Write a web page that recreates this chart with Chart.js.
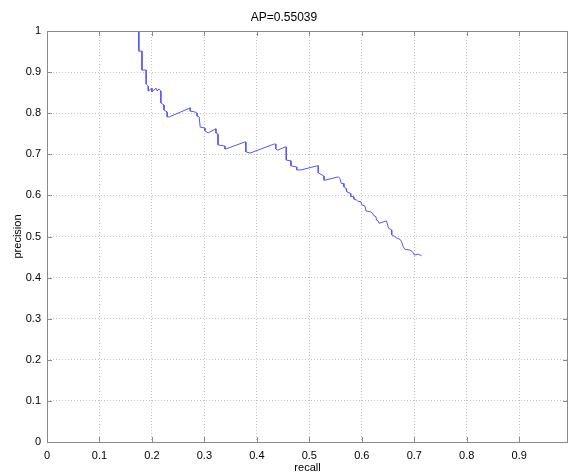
<!DOCTYPE html>
<html>
<head>
<meta charset="utf-8">
<script src="https://cdn.jsdelivr.net/npm/chart.js@4.4.1/dist/chart.umd.min.js"></script>
<style>
  html, body { margin: 0; padding: 0; background: #fff; }
  canvas { display: block; }
</style>
</head>
<body>
<canvas id="pr" width="569" height="475"></canvas>
<script>
// precision / recall curve
const recall = [
  0.175, 0.175, 0.181, 0.181, 0.189, 0.189, 0.193, 0.193, 0.200, 0.200,
  0.208, 0.210, 0.213, 0.217, 0.217, 0.223, 0.223, 0.229, 0.229, 0.233,
  0.273, 0.273, 0.282, 0.286, 0.286, 0.290, 0.292, 0.301, 0.301, 0.307,
  0.322, 0.322, 0.326, 0.326, 0.339, 0.339, 0.341, 0.377, 0.379, 0.379,
  0.387, 0.433, 0.436, 0.436, 0.440, 0.454, 0.456, 0.456, 0.465, 0.465,
  0.476, 0.476, 0.484, 0.515, 0.517, 0.517, 0.528, 0.528, 0.530, 0.555,
  0.558, 0.561, 0.565, 0.566, 0.570, 0.571, 0.578, 0.579, 0.584, 0.585,
  0.590, 0.593, 0.598, 0.600, 0.606, 0.608, 0.617, 0.621, 0.622, 0.627,
  0.628, 0.631, 0.633, 0.647, 0.651, 0.657, 0.657, 0.663, 0.667, 0.673,
  0.676, 0.679, 0.682, 0.692, 0.698, 0.700, 0.708, 0.714
]
const precision = [
  1.000, 0.951, 0.951, 0.905, 0.905, 0.871, 0.866, 0.854, 0.861, 0.852,
  0.861, 0.854, 0.859, 0.854, 0.825, 0.820, 0.808, 0.803, 0.791, 0.791,
  0.813, 0.805, 0.803, 0.800, 0.793, 0.791, 0.766, 0.764, 0.757, 0.752,
  0.762, 0.752, 0.749, 0.723, 0.720, 0.713, 0.713, 0.730, 0.730, 0.706,
  0.703, 0.725, 0.725, 0.713, 0.710, 0.718, 0.718, 0.686, 0.684, 0.672,
  0.669, 0.662, 0.662, 0.672, 0.672, 0.655, 0.647, 0.637, 0.637, 0.645,
  0.642, 0.629, 0.629, 0.621, 0.617, 0.609, 0.605, 0.597, 0.597, 0.591,
  0.589, 0.585, 0.585, 0.577, 0.574, 0.562, 0.560, 0.556, 0.552, 0.548,
  0.540, 0.538, 0.532, 0.538, 0.520, 0.516, 0.504, 0.500, 0.496, 0.493,
  0.487, 0.475, 0.469, 0.467, 0.461, 0.455, 0.457, 0.453
]
const xTicks = [0, 0.1, 0.2, 0.3, 0.4, 0.5, 0.6, 0.7, 0.8, 0.9]
const yTicks = [0, 0.1, 0.2, 0.3, 0.4, 0.5, 0.6, 0.7, 0.8, 0.9, 1]
const apText = 'AP=0.55039'

const font = { family: '"Liberation Sans", Arial, Helvetica, sans-serif', size: 11 }
const axisGray = '#8a8a8a'

// matlab style box with short inner ticks on every side
const boxPlugin = {
  id: 'matlabBox',
  afterDraw(chart) {
    const { ctx, chartArea: a, scales } = chart
    ctx.save()
    ctx.strokeStyle = axisGray
    ctx.lineWidth = 1
    ctx.setLineDash([])
    ctx.beginPath()
    xTicks.forEach(v => {
      const px = Math.round(scales.x.getPixelForValue(v)) + 0.5
      ctx.moveTo(px, a.bottom); ctx.lineTo(px, a.bottom - 5)
      ctx.moveTo(px, a.top); ctx.lineTo(px, a.top + 5)
    })
    yTicks.forEach(v => {
      const py = Math.round(scales.y.getPixelForValue(v)) + 0.5
      ctx.moveTo(a.left, py); ctx.lineTo(a.left + 5, py)
      ctx.moveTo(a.right, py); ctx.lineTo(a.right - 5, py)
    })
    ctx.stroke()
    ctx.strokeRect(Math.round(a.left) + 0.5, Math.round(a.top) + 0.5,
      Math.round(a.right - a.left) - 1, Math.round(a.bottom - a.top))
    ctx.restore()
  }
}

const points = recall.map((r, i) => ({ x: r, y: precision[i] }))

new Chart(document.getElementById('pr'), {
  type: 'scatter',
  data: {
    datasets: [{
      data: points,
      showLine: true,
      borderColor: 'rgb(85,85,255)',
      borderWidth: 1,
      pointRadius: 0,
      tension: 0,
      fill: false
    }]
  },
  options: {
    responsive: false,
    animation: false,
    events: [],
    layout: { padding: { left: 0, right: 1, top: 0, bottom: 0 } },
    plugins: {
      legend: { display: false },
      tooltip: { enabled: false },
      title: {
        display: true,
        text: apText,
        color: '#000',
        font: { ...font, size: 12, weight: 'normal' },
        padding: { top: 10, bottom: 6.6 }
      }
    },
    scales: {
      x: {
        type: 'linear',
        min: 0,
        max: 0.993,
        afterBuildTicks: s => { s.ticks = xTicks.map(v => ({ value: v })) },
        afterFit: s => { s.height = 33 },
        ticks: { color: '#000', font, padding: 7, maxRotation: 0, callback: v => String(v) },
        grid: { color: '#c4c4c4', lineWidth: 1, drawTicks: false },
        border: { display: false, dash: [1, 2] },
        title: { display: true, text: 'recall', color: '#000', font, padding: { top: -5, bottom: 0 } }
      },
      y: {
        type: 'linear',
        min: 0,
        max: 1,
        afterBuildTicks: s => { s.ticks = yTicks.map(v => ({ value: v })) },
        afterFit: s => { s.width = 47 },
        ticks: { color: '#000', font, padding: 6, callback: v => String(v) },
        grid: { color: '#c4c4c4', lineWidth: 1, drawTicks: false },
        border: { display: false, dash: [1, 2] },
        title: { display: true, text: 'precision', color: '#000', font, padding: { top: 11, bottom: 0 } }
      }
    }
  },
  plugins: [boxPlugin]
})
</script>
</body>
</html>
